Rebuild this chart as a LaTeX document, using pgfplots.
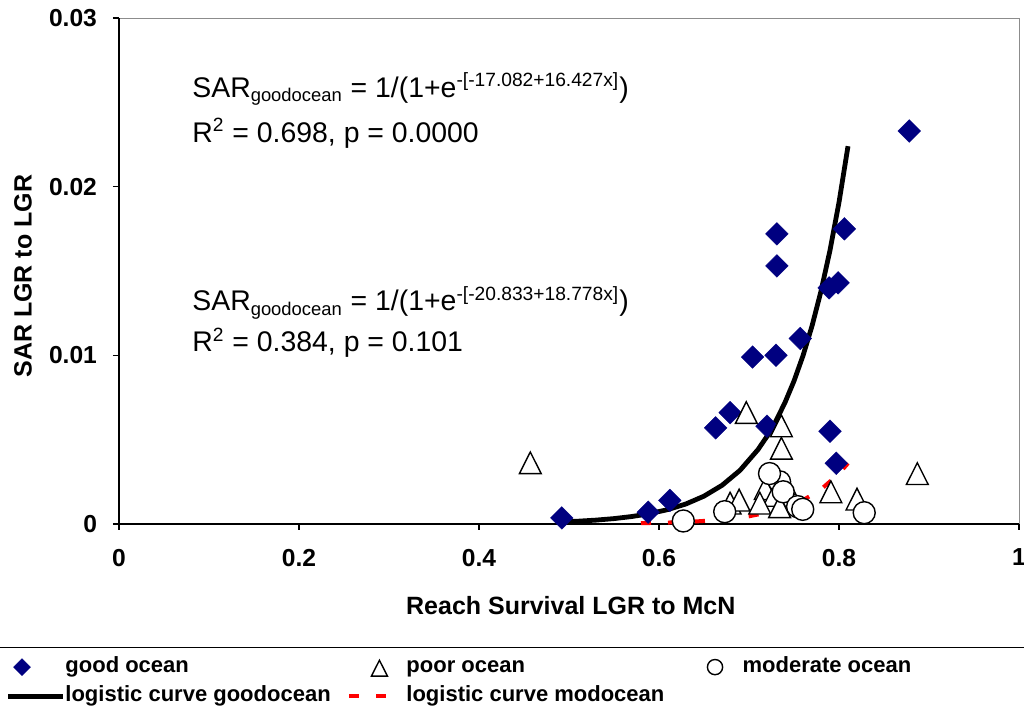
\documentclass[border=0pt]{standalone}
\usepackage{fontspec}
\setmainfont{Liberation Sans}
\usepackage{pgfplots}
\pgfplotsset{compat=1.18}
\definecolor{navy}{RGB}{0,0,128}
\newcommand\sps[1]{\textsuperscript{\fontsize{9.6}{10}\selectfont #1}}
\newcommand\sbs[1]{\textsubscript{\fontsize{9.2}{10}\selectfont #1}}
\pgfplotsset{
  leg diamond/.style={legend image code/.code={\path (0pt,-4pt) (27.5pt,4pt);
    \draw[##1, mark size=3pt] plot coordinates {(7pt,0pt)};}},
  leg triangle/.style={legend image code/.code={\path (0pt,-4pt) (27.5pt,4pt);
    \draw[##1, mark size=4.6pt] plot coordinates {(15pt,0pt)};}},
  leg circle/.style={legend image code/.code={\path (0pt,-4pt) (27.5pt,4pt);
    \draw[##1, mark size=3.8pt] plot coordinates {(14pt,0pt)};}},
  leg line/.style={legend image code/.code={\path (0pt,-4pt) (27.5pt,4pt);
    \draw[##1] (0pt,0pt) -- (27.5pt,0pt);}},
  leg dash/.style={legend image code/.code={\path (0pt,-4pt) (27.5pt,4pt);
    \draw[##1] (0pt,0pt) -- (18.5pt,0pt);}},
}

\begin{document}
\begin{tikzpicture}
\begin{axis}[
  at={(59.5pt,91.5pt)}, anchor=south west,
  scale only axis, width=450pt, height=253pt,
  xmin=0, xmax=1, ymin=0, ymax=0.03,
  clip=false,
  scaled x ticks=false, scaled y ticks=false,
  xtick={0,0.2,0.4,0.6,0.8,1}, xticklabels={0,0.2,0.4,0.6,0.8,1},
  ytick={0,0.01,0.02,0.03}, yticklabels={0,0.01,0.02,0.03},
  xtick pos=left, ytick pos=left,
  tick align=outside, major tick length=3pt,
  tick style={black, line width=0.6pt},
  ticklabel style={font=\fontsize{12.3}{14}\selectfont\bfseries},
  xticklabel style={yshift=-6pt},
  yticklabel style={xshift=-4.5pt},
  axis line style={draw=black!45, line width=0.5pt},
  xlabel={Reach Survival LGR to McN},
  ylabel={SAR LGR to LGR},
  label style={font=\fontsize{12.5}{15}\selectfont\bfseries},
  xlabel style={at={(axis description cs:0.502,-0.162)}, anchor=center},
  ylabel style={at={(axis description cs:-0.1067,0.49)}, anchor=center},
  legend style={at={(axis description cs:-0.1344,-0.2431)}, anchor=north west,
    draw=black, line width=0.6pt, inner xsep=3.5pt, inner ysep=4.5pt,
    font=\fontsize{11}{13}\selectfont\bfseries,
    column sep=0pt, row sep=4pt,
    nodes={inner sep=0pt, text height=8pt, text depth=2.5pt, anchor=west}},
  legend columns=3, legend cell align=left,
]
\draw[black, line width=0.7pt] (rel axis cs:0,1) -- (rel axis cs:0,0) -- (rel axis cs:1,0);

% logistic curve modocean (red dashed)
\addplot[red, line width=2pt, dash pattern=on 5pt off 8.5pt, forget plot] coordinates {
(0.58,0.00004812) (0.60,0.00007006) (0.62,0.0001020) (0.64,0.0001485) (0.66,0.0002162)
(0.68,0.0003147) (0.70,0.0004581) (0.72,0.0006665) (0.74,0.0009700) (0.76,0.0014115)
(0.78,0.0020534) (0.80,0.0029870) (0.81,0.0036017)};

% logistic curve goodocean (black)
\addplot[black, line width=2.4pt, forget plot] coordinates {
(0.49,0.0001194) (0.51,0.0001659) (0.53,0.0002304) (0.55,0.0003200) (0.57,0.0004445)
(0.59,0.0006173) (0.61,0.0008575) (0.63,0.0011895) (0.65,0.0016516) (0.67,0.0022923)
(0.69,0.003181) (0.71,0.004413) (0.72,0.005196) (0.73,0.006119) (0.74,0.007203)
(0.75,0.008478) (0.76,0.009977) (0.77,0.011737) (0.78,0.013805) (0.79,0.016227)
(0.80,0.01907) (0.81,0.02240)};

% good ocean
\addplot[only marks, mark=square*, mark size=4pt,
  mark options={rotate=45, fill=navy, draw=navy, line width=0.2pt}, leg diamond]
coordinates {
(0.492,0.00036) (0.588,0.0007) (0.612,0.0014) (0.663,0.0057) (0.679,0.0066)
(0.720,0.0058) (0.790,0.0055) (0.797,0.0036) (0.878,0.0233) (0.731,0.0172)
(0.731,0.0153) (0.806,0.0175) (0.799,0.0143) (0.789,0.0140) (0.757,0.0110)
(0.730,0.0100) (0.704,0.0099)};
\addlegendentry{\makebox[141pt][l]{good ocean}}

% poor ocean
\addplot[only marks, mark=triangle*, mark size=6.3pt,
  mark options={fill=white, draw=black, line width=0.7pt, yscale=1.15, yshift=-1.6pt}, leg triangle]
coordinates {
(0.457,0.00363) (0.697,0.00661) (0.736,0.00582) (0.736,0.00449) (0.887,0.00299)
(0.791,0.00191) (0.820,0.00148) (0.718,0.0021) (0.728,0.0017) (0.740,0.0024)
(0.679,0.00124) (0.689,0.00142) (0.712,0.00124) (0.734,0.00103)};
\addlegendentry{\makebox[140pt][l]{poor ocean}}

% moderate ocean
\addplot[only marks, mark=*, mark size=5.5pt,
  mark options={fill=white, draw=black, line width=0.7pt}, leg circle]
coordinates {
(0.734,0.0025) (0.7228,0.00299) (0.738,0.00191) (0.673,0.00073) (0.754,0.00103)
(0.7597,0.00087) (0.828,0.00067) (0.627,0.00018)};
\addlegendentry{\makebox[140.5pt][l]{moderate ocean}}

\addlegendimage{black, line width=2.4pt, leg line}
\addlegendentry{\makebox[141pt][l]{logistic curve goodocean}}
\addlegendimage{red, line width=2pt, dash pattern=on 5pt off 8.5pt, leg dash}
\addlegendentry{\makebox[140pt][l]{logistic curve modocean}}

\node[anchor=base west, inner sep=0pt, font=\fontsize{14.2}{17}\selectfont] at (axis cs:0.0811,0.02531)
  {SAR\sbs{goodocean} = 1/(1+e\sps{-[-17.082+16.427x]})};
\node[anchor=base west, inner sep=0pt, font=\fontsize{14.2}{17}\selectfont] at (axis cs:0.0811,0.02264)
  {R\sps{2} = 0.698, p = 0.0000};
\node[anchor=base west, inner sep=0pt, font=\fontsize{14.2}{17}\selectfont] at (axis cs:0.0811,0.01263)
  {SAR\sbs{goodocean} = 1/(1+e\sps{-[-20.833+18.778x]})};
\node[anchor=base west, inner sep=0pt, font=\fontsize{14.2}{17}\selectfont] at (axis cs:0.0811,0.0102)
  {R\sps{2} = 0.384, p = 0.101};
\end{axis}
\pgfresetboundingbox
\path[use as bounding box] (0,0) rectangle (512pt,353.5pt);
\end{tikzpicture}
\end{document}
